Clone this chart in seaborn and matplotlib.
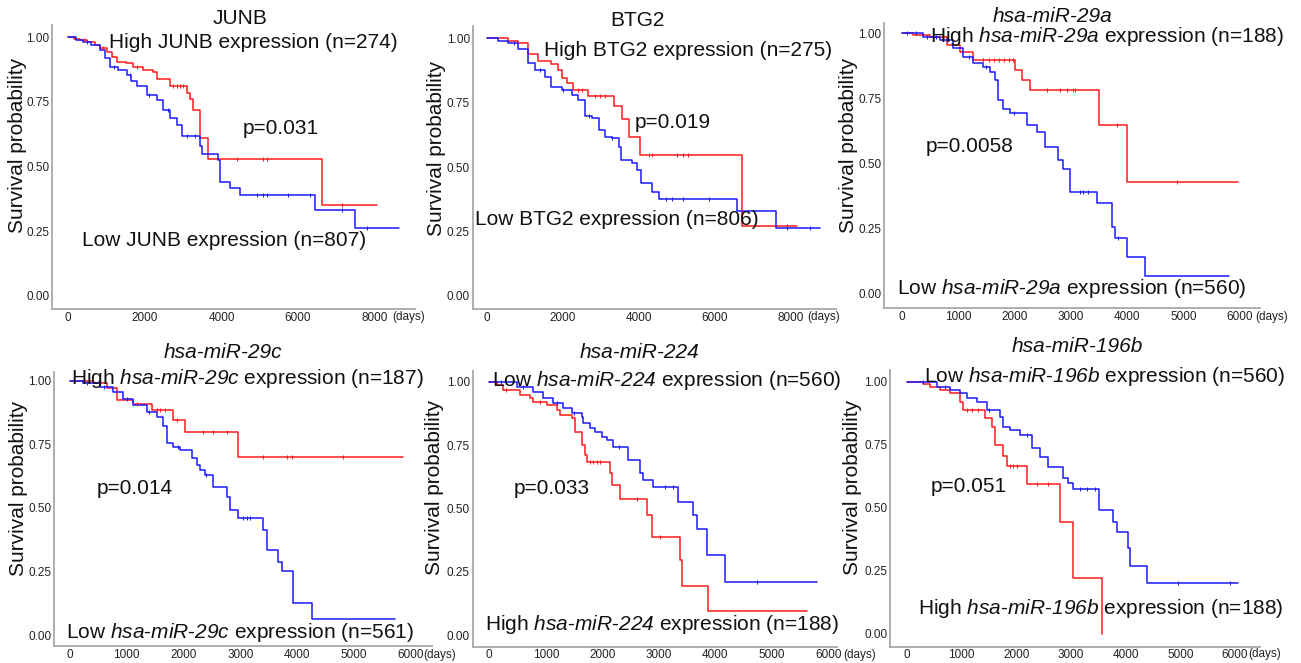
import numpy as np
import matplotlib
matplotlib.use("Agg")
import matplotlib.pyplot as plt
import seaborn as sns

# -------------------------------
# Kaplan-Meier step data (days, survival)
# -------------------------------
junb_high_t = [0, 150, 300, 500, 700, 830, 1000, 1150, 1263, 1500, 1700, 1950, 2222, 2310, 2657, 3093, 3180, 3267, 3441, 3659, 6620, 8057]
junb_high_s = [1.0, 0.995, 0.99, 0.98, 0.97, 0.96, 0.945, 0.925, 0.905, 0.90, 0.887, 0.875, 0.865, 0.84, 0.812, 0.785, 0.76, 0.72, 0.61, 0.53, 0.352, 0.352]
junb_high_c = [400, 900, 1800, 2744, 2831, 2918, 3005, 4399, 5096, 5183, 7142]
junb_low_t = [0, 200, 392, 600, 827, 950, 1089, 1300, 1524, 1650, 1786, 2047, 2308, 2482, 2657, 2831, 2961, 3441, 3484, 3920, 3963, 4224, 4486, 6445, 7491, 8623]
junb_low_s = [1.0, 0.99, 0.983, 0.97, 0.95, 0.92, 0.887, 0.875, 0.854, 0.83, 0.81, 0.777, 0.758, 0.72, 0.687, 0.66, 0.62, 0.58, 0.55, 0.525, 0.44, 0.416, 0.39, 0.332, 0.264, 0.264]
junb_low_c = [500, 1200, 1600, 2100, 2600, 3100, 3300, 4921, 5096, 5183, 5749, 6315, 7142, 7796]

btg2_high_t = [0, 549, 814, 1080, 1345, 1699, 1876, 1965, 2097, 2274, 2673, 3336, 3558, 3735, 4018, 6726, 8160]
btg2_high_s = [1.0, 0.99, 0.98, 0.94, 0.91, 0.90, 0.877, 0.845, 0.825, 0.80, 0.777, 0.737, 0.686, 0.618, 0.547, 0.272, 0.272]
btg2_high_c = [2407, 2496, 2850, 2982, 3115, 4266, 4354, 5018, 5151, 5284, 7894]
btg2_low_t = [0, 300, 549, 814, 1080, 1257, 1522, 1699, 1965, 2230, 2407, 2584, 2761, 2938, 3115, 3292, 3469, 3540, 3823, 3956, 4044, 4354, 4531, 6584, 7611, 8779]
btg2_low_s = [1.0, 0.99, 0.98, 0.96, 0.903, 0.877, 0.851, 0.81, 0.80, 0.78, 0.76, 0.70, 0.69, 0.644, 0.618, 0.612, 0.58, 0.528, 0.515, 0.49, 0.437, 0.405, 0.376, 0.33, 0.263, 0.263]
btg2_low_c = [700, 1400, 2000, 2700, 3300, 4708, 4885, 5151, 5859, 7894, 8514]

mir29a_high_t = [0, 200, 502, 798, 1034, 1271, 2010, 2128, 2276, 3505, 3990, 5970]
mir29a_high_s = [1.0, 0.993, 0.987, 0.955, 0.93, 0.897, 0.859, 0.82, 0.782, 0.647, 0.43, 0.43]
mir29a_high_c = [1448, 1540, 1630, 1720, 1810, 1900, 1980, 2571, 2808, 2926, 3044, 3074, 3813, 4889]
mir29a_low_t = [0, 384, 680, 916, 1094, 1271, 1448, 1566, 1655, 1714, 1803, 1921, 2217, 2394, 2542, 2778, 2867, 2985, 3458, 3724, 3783, 3990, 4315, 5810]
mir29a_low_s = [1.0, 0.987, 0.974, 0.942, 0.91, 0.887, 0.872, 0.853, 0.82, 0.744, 0.71, 0.692, 0.647, 0.62, 0.564, 0.513, 0.48, 0.39, 0.346, 0.256, 0.212, 0.141, 0.067, 0.067]
mir29a_low_c = [100, 250, 450, 600, 800, 1200, 1500, 2000, 3162, 3221, 3310, 3842]

mir29c_high_t = [0, 411, 646, 822, 1115, 1438, 1820, 2025, 2965, 5871]
mir29c_high_s = [1.0, 0.99, 0.97, 0.924, 0.908, 0.885, 0.845, 0.797, 0.70, 0.70]
mir29c_high_c = [1115, 1174, 1526, 1585, 1673, 1879, 2348, 2524, 2759, 3405, 3816, 3904, 4814]
mir29c_low_t = [0, 235, 528, 763, 939, 1115, 1350, 1526, 1644, 1703, 1820, 1937, 2143, 2231, 2290, 2378, 2524, 2759, 2818, 2965, 3405, 3464, 3669, 3728, 3934, 4256, 5724]
mir29c_low_s = [1.0, 0.99, 0.976, 0.957, 0.93, 0.904, 0.878, 0.858, 0.82, 0.754, 0.74, 0.727, 0.695, 0.668, 0.649, 0.63, 0.583, 0.544, 0.49, 0.459, 0.413, 0.335, 0.289, 0.25, 0.125, 0.062, 0.062]
mir29c_low_c = [300, 600, 1000, 1400, 1900, 2400, 3053, 3112, 3170]

mir224_high_t = [0, 130, 248, 543, 720, 779, 1015, 1192, 1251, 1457, 1516, 1634, 1693, 1723, 2136, 2165, 2313, 2785, 2873, 3375, 3404, 3876, 5617]
mir224_high_s = [1.0, 0.987, 0.967, 0.947, 0.934, 0.92, 0.908, 0.888, 0.868, 0.855, 0.80, 0.75, 0.71, 0.684, 0.638, 0.592, 0.536, 0.474, 0.388, 0.296, 0.193, 0.096, 0.096]
mir224_high_c = [300, 900, 1782, 1841, 1900, 1959, 2608, 3021]
mir224_low_t = [0, 484, 779, 956, 1133, 1310, 1457, 1634, 1664, 1782, 1870, 1988, 2077, 2195, 2460, 2667, 2726, 2903, 3345, 3611, 3670, 3847, 4171, 5794]
mir224_low_s = [1.0, 0.98, 0.96, 0.934, 0.914, 0.895, 0.875, 0.862, 0.836, 0.816, 0.80, 0.783, 0.77, 0.743, 0.69, 0.638, 0.612, 0.586, 0.526, 0.474, 0.42, 0.316, 0.21, 0.21]
mir224_low_c = [200, 600, 1200, 1500, 2300, 3109, 3257, 4732]

mir196b_high_t = [0, 305, 426, 609, 792, 974, 1035, 1431, 1553, 1614, 1766, 1827, 2193, 2802, 3046, 3563]
mir196b_high_s = [1.0, 0.99, 0.98, 0.967, 0.954, 0.92, 0.888, 0.855, 0.822, 0.749, 0.705, 0.666, 0.594, 0.445, 0.221, 0.0]
mir196b_high_c = [1100, 1200, 1300, 1888, 1949, 2010, 2375, 2589]
mir196b_low_t = [0, 548, 792, 974, 1096, 1279, 1462, 1705, 1766, 1888, 2071, 2284, 2436, 2589, 2863, 2954, 3046, 3520, 3776, 3837, 4050, 4080, 4385, 6060]
mir196b_low_s = [1.0, 0.98, 0.967, 0.954, 0.934, 0.92, 0.888, 0.861, 0.822, 0.808, 0.789, 0.736, 0.703, 0.663, 0.617, 0.597, 0.573, 0.491, 0.445, 0.406, 0.34, 0.27, 0.201, 0.201]
mir196b_low_c = [300, 700, 1500, 2200, 3167, 3289, 3441, 4963, 5907]

titles = ["JUNB", "BTG2", "hsa-miR-29a", "hsa-miR-29c", "hsa-miR-224", "hsa-miR-196b"]
p_values = ["p=0.031", "p=0.019", "p=0.0058", "p=0.014", "p=0.033", "p=0.051"]
n_high = [274, 275, 188, 187, 188, 188]
n_low = [807, 806, 560, 561, 560, 560]
long_ticks = [0, 2000, 4000, 6000, 8000]
short_ticks = [0, 1000, 2000, 3000, 4000, 5000, 6000]
y_ticks = [0.0, 0.25, 0.50, 0.75, 1.00]

curves = [
    (junb_high_t, junb_high_s, junb_high_c, junb_low_t, junb_low_s, junb_low_c),
    (btg2_high_t, btg2_high_s, btg2_high_c, btg2_low_t, btg2_low_s, btg2_low_c),
    (mir29a_high_t, mir29a_high_s, mir29a_high_c, mir29a_low_t, mir29a_low_s, mir29a_low_c),
    (mir29c_high_t, mir29c_high_s, mir29c_high_c, mir29c_low_t, mir29c_low_s, mir29c_low_c),
    (mir224_high_t, mir224_high_s, mir224_high_c, mir224_low_t, mir224_low_s, mir224_low_c),
    (mir196b_high_t, mir196b_high_s, mir196b_high_c, mir196b_low_t, mir196b_low_s, mir196b_low_c),
]

# -------------------------------
# layout in pixels: axes box (L, T, R, B), x of t=0, x of last tick, y of S=1, y of S=0
# -------------------------------
boxes = [
    (52, 25, 415, 309, 68.3, 374.7, 37.3, 296),
    (472.7, 26, 836, 309, 487, 790.7, 38.3, 296),
    (884.3, 23, 1260, 308.3, 901.7, 1240, 33.3, 293.3),
    (54.3, 372, 432, 646, 70, 410.7, 380.7, 635),
    (472.7, 371, 837, 646.7, 489.3, 828.3, 381.7, 635),
    (890, 370, 1260, 646.7, 906.7, 1235, 381.7, 634),
]
# text centres: title, top label, p value, bottom label, y label, "(days)" left edge
text_pos = [
    [(240, 18), (253, 42), (281, 128), (224, 240), (18, 145), (392, 317)],
    [(637, 20), (688, 50), (673, 122), (617, 220), (436, 148), (807, 317)],
    [(1053, 17), (1107, 37), (970, 147), (1072, 289), (848, 145), (1255, 317)],
    [(223, 352), (247, 378), (135, 488), (240, 632), (19, 488), (423, 655)],
    [(640, 352), (667, 380), (552, 488), (662, 624), (435, 487), (843, 655)],
    [(1077, 347), (1104, 377), (969, 487), (1101, 608), (853, 487), (1248, 654)],
]

sns.set_style("white")
plt.rcParams["font.family"] = ["Liberation Sans", "DejaVu Sans"]
# gene names go through mathtext; every math font is the italic face so digits lean too
plt.rcParams["mathtext.fontset"] = "custom"
plt.rcParams["mathtext.rm"] = "Liberation Sans:italic"
plt.rcParams["mathtext.it"] = "Liberation Sans:italic"

W, H = 1301, 663
fig = plt.figure(figsize=(W / 100, H / 100), dpi=100)
fig.patch.set_facecolor("white")


def fx(x):
    return x / W


def fy(y):
    return 1 - y / H


def gene_label(name):
    if name.startswith("hsa"):
        return "-".join("$\\mathrm{%s}$" % part for part in name.split("-"))
    return name


BIG = 15
SMALL = 8.5
RED = "#ff1a1a"
BLUE = "#1a1aff"
INK = "#111111"

for i in range(6):
    L, T, R, B, x0, xk, y1, y0 = boxes[i]
    ht, hs, hc, lt, ls, lc = curves[i]
    ticks = long_ticks if i < 2 else short_ticks

    ax = fig.add_axes([fx(L), fy(B), (R - L) / W, (B - T) / H])
    ax.set_facecolor("none")

    for t, s, c, col in [(ht, hs, hc, RED), (lt, ls, lc, BLUE)]:
        sns.lineplot(x=t, y=s, drawstyle="steps-post", color=col, lw=1.1,
                     estimator=None, sort=False, ax=ax)
        t_arr = np.asarray(t)
        s_arr = np.asarray(s)
        idx = np.searchsorted(t_arr, c, side="right") - 1
        sns.scatterplot(x=c, y=s_arr[idx], marker="|", s=7, linewidth=0.7,
                        color=col, ax=ax, zorder=3)

    # scales so ticks land where the reference has them
    per_x = (xk - x0) / ticks[-1]
    ax.set_xlim(-(x0 - L) / per_x, (R - x0) / per_x)
    per_y = y0 - y1
    ax.set_ylim(-(B - y0) / per_y, 1 + (y1 - T) / per_y)

    ax.set_xticks(ticks)
    ax.set_xticklabels([str(v) for v in ticks])
    ax.set_yticks(y_ticks)
    ax.set_yticklabels([f"{v:.2f}" for v in y_ticks])
    ax.tick_params(length=0, labelsize=SMALL, colors="#222222", pad=2)
    ax.set_xlabel("")
    ax.set_ylabel("")
    sns.despine(ax=ax)
    for side in ["left", "bottom"]:
        ax.spines[side].set_color("#a8a8a8")
        ax.spines[side].set_linewidth(1.3)

    name = titles[i]
    g = gene_label(name)
    pos = text_pos[i]
    italic = "italic" if name.startswith("hsa") else "normal"
    fig.text(fx(pos[0][0]), fy(pos[0][1]), name, fontsize=BIG, style=italic,
             color=INK, ha="center", va="center")
    high = f"High {g} expression (n={n_high[i]})"
    low = f"Low {g} expression (n={n_low[i]})"
    top, bottom = (high, low) if i < 4 else (low, high)
    fig.text(fx(pos[1][0]), fy(pos[1][1]), top, fontsize=BIG, color=INK,
             ha="center", va="center")
    fig.text(fx(pos[2][0]), fy(pos[2][1]), p_values[i], fontsize=BIG, color=INK,
             ha="center", va="center")
    fig.text(fx(pos[3][0]), fy(pos[3][1]), bottom, fontsize=BIG, color=INK,
             ha="center", va="center")
    fig.text(fx(pos[4][0]), fy(pos[4][1]), "Survival probability", fontsize=BIG,
             color=INK, rotation=90, ha="center", va="center")
    fig.text(fx(pos[5][0]), fy(pos[5][1]), "(days)", fontsize=SMALL, color="#222222",
             ha="left", va="center")

fig.savefig("out.png", dpi=100, facecolor="white")
